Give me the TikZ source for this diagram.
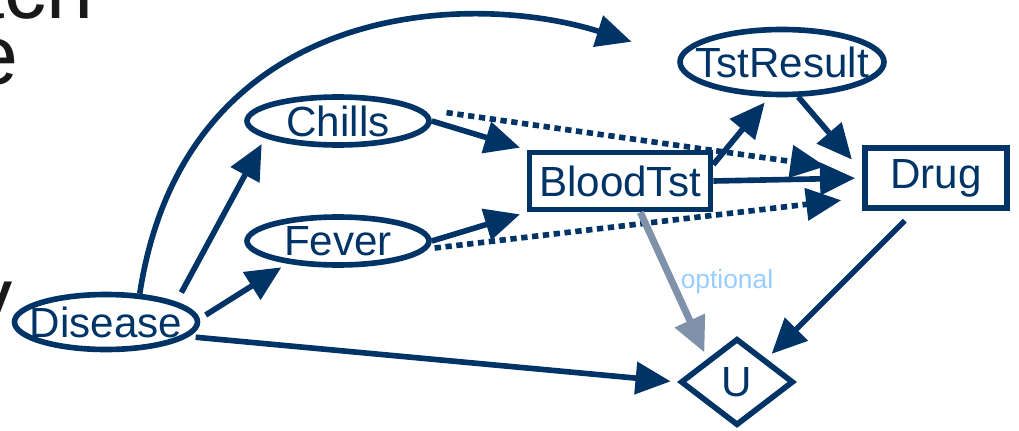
\documentclass[tikz,border=0pt]{standalone}
\usepackage{fontspec}
\setmainfont{Liberation Sans}
\usetikzlibrary{arrows.meta, shapes.geometric}
\definecolor{navy}{RGB}{0,51,102}
\definecolor{optblue}{RGB}{153,204,255}
\definecolor{optgray}{RGB}{128,146,170}
\definecolor{slidegray}{RGB}{25,25,25}

\begin{document}
\begin{tikzpicture} [x=0.02cm, y=-0.02cm,
        every node/.style={font=\fontsize{24}{28}\selectfont, text=navy},
        chance/.style={ellipse, draw=navy, line width=3.2pt, inner xsep=-25pt, inner ysep=-8pt},
        decision/.style={rectangle, draw=navy, line width=3.2pt, inner sep=0pt},
        utility/.style={diamond, draw=navy, line width=3.2pt, inner sep=0pt},
        infl/.style={-{Triangle[length=20pt,width=18pt]}, draw=navy, line width=3.2pt, shorten >=4pt},
        inform/.style={infl, dash pattern=on 3.6pt off 2.6pt},
        slidetxt/.style={font=\fontsize{48}{52}\selectfont, text=slidegray, inner sep=0pt}]
        \useasboundingbox (0,0) rectangle (1019,430);

        % cut-off slide text on the left
        \node (w1) [slidetxt, anchor=base east] at (94,18) {each};
        \node (w2) [slidetxt, anchor=base east] at (19,84) {e};
        \node (w3) [slidetxt, anchor=base east] at (13,326) {y};

        \node (dis) [chance, minimum width=3.66cm, minimum height=1.1cm] at (106,322) {Disease};
        \node (chl) [chance, minimum width=3.64cm, minimum height=0.96cm] at (338,121) {Chills};
        \node (fev) [chance, minimum width=3.64cm, minimum height=0.96cm] at (338,241) {Fever};
        \node (bt) [decision, minimum width=3.62cm, minimum height=1.14cm] at (620,181) {BloodTst};
        \node (tr) [chance, minimum width=4.08cm, minimum height=1.3cm] at (782,62) {TstResult};
        \node (drg) [decision, minimum width=2.84cm, minimum height=1.2cm] at (936,178) {Drug};
        \node (u) [utility, minimum width=2.26cm, minimum height=1.74cm] at (737,382) {U};

        \draw [infl, shorten >=28pt] (dis.40) .. controls (185,0) and (468,-10) .. (tr.177);
        \draw [infl, shorten <=6pt] (dis.16) -- (chl.193);
        \draw [infl, shorten <=4pt] (dis.2) -- (fev.204);
        \draw [infl, shorten <=4pt] (dis.-10) -- (u.west);
        \draw [infl] (chl.east) -- (bt.north west);
        \draw [infl] (fev.east) -- (bt.south west);
        \draw [inform, shorten <=14pt, shorten >=21pt] (chl.8) -- (drg.175);
        \draw [inform, shorten <=4pt, shorten >=12pt] (fev.-5) -- (drg.195);
        \draw [infl] (bt.10) -- (tr.250);
        \draw [infl] (bt.east) -- (drg.west);
        \draw [infl, shorten >=9pt] (tr.295) -- (drg.175);
        \draw [infl, shorten <=8pt] (drg.237) -- (u.north east);
        \draw [infl, draw=optgray, fill=optgray, line width=4pt] (bt.-57) -- (u.north west);
        \node (opt) [font=\fontsize{15}{17}\selectfont, text=optblue] at (727,282) {optional};

    \end{tikzpicture}
\end{document}
